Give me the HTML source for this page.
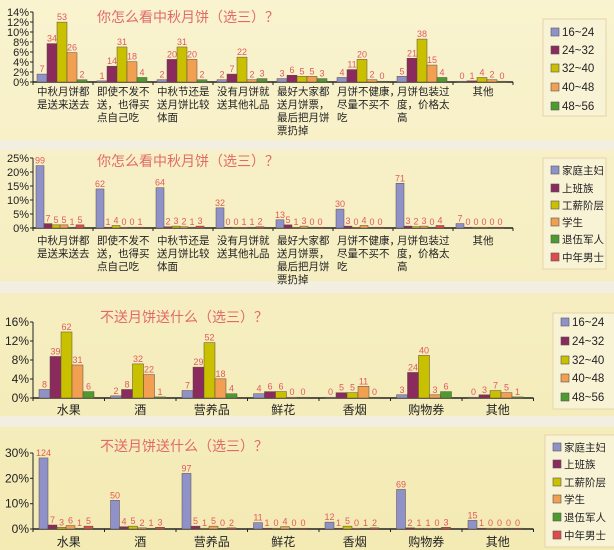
<!DOCTYPE html>
<html><head><meta charset="utf-8"><style>
html,body{margin:0;padding:0;width:614px;height:550px;overflow:hidden;background:#f7f0c4}
svg{display:block}
text{font-family:"Liberation Sans","Noto Sans CJK SC",sans-serif}
</style></head><body>
<svg id="s" width="614" height="550" xmlns="http://www.w3.org/2000/svg">
<defs><linearGradient id="bg" x1="0" y1="0" x2="0" y2="1"><stop offset="0" stop-color="#f9f3cf"/><stop offset="1" stop-color="#f3eab4"/></linearGradient></defs>
<rect width="614" height="550" fill="url(#bg)"/>
<rect x="0" y="140" width="614" height="10" fill="#f2eee0"/>
<rect x="0" y="281" width="614" height="12" fill="#f2eee0"/>
<rect x="0" y="416" width="614" height="11" fill="#f2eee0"/>
</svg>
<script>
var S=document.getElementById('s'),NS='http://www.w3.org/2000/svg';
function el(t,a,txt){var e=document.createElementNS(NS,t);for(var k in a)e.setAttribute(k,a[k]);if(txt!==undefined)e.textContent=txt;S.appendChild(e);return e;}
var C5=['#8f92c9','#8b2a5c','#c9c000','#f0a050','#4d9a2e'];
var C6=['#8f92c9','#8b2a5c','#c9c000','#f0a050','#4d9a2e','#e04a4a'];
function chart(o){
  var x0=33,y0=o.y0;
  el('line',{x1:x0,y1:o.ytop,x2:x0,y2:y0,stroke:'#222','stroke-width':1});
  o.yt.forEach(function(t){var y=y0-t[0];el('line',{x1:x0-3,y1:y,x2:x0,y2:y,stroke:'#222'});
    el('text',{x:x0-4,y:y+4,'font-size':o.yfs,'text-anchor':'end',fill:'#222'},t[1]);});
  var xe=x0+o.gw*o.data.length;
  el('line',{x1:x0,y1:y0,x2:xe,y2:y0,stroke:'#222','stroke-width':1.5});
  for(var g=0;g<=o.data.length;g++){el('line',{x1:x0+g*o.gw,y1:y0,x2:x0+g*o.gw,y2:y0+3,stroke:'#222'});}
  o.data.forEach(function(d,g){
    var gx=x0+g*o.gw+o.off;
    d.forEach(function(v,i){var h=Math.max(v*o.k,0.8);var x=gx+i*o.bw;
      el('rect',{x:x,y:y0-h,width:o.bw,height:h,fill:o.col[i],stroke:'#5a4a40','stroke-width':0.5});
      el('text',{x:x+o.bw/2,y:y0-h-2,'font-size':9,'text-anchor':'middle',fill:'#e05a5a'},String(v));});
    var lab=o.labels[g];
    lab.forEach(function(l,j){
      if(o.center) el('text',{x:x0+g*o.gw+o.gw/2,y:o.ly+j*13,'font-size':12,'text-anchor':'middle',fill:'#222'},l);
      else el('text',{x:x0+g*o.gw+(o.lc&&g==o.data.length-1?o.gw/2:4),y:o.ly+j*13,'font-size':10.5,'text-anchor':(o.lc&&g==o.data.length-1?'middle':'start'),fill:'#222'},l);
    });
  });
  el('text',{x:o.tx,y:o.ty,'font-size':14,fill:'#e06a6a'},o.title);
  el('rect',{x:o.lx,y:o.lyb,width:o.lw,height:o.lh,fill:'#f9f3d6',stroke:'#e6d3a8'});
  o.leg.forEach(function(n,i){var y=o.li[i];
    el('rect',{x:o.lx+8,y:y-8,width:8,height:8,fill:o.col[i],stroke:'#555','stroke-width':0.6});
    el('text',{x:o.lx+19,y:y,'font-size':o.lfs||11.5,fill:'#222'},n);});
}
var L1=[['中秋月饼都','是送来送去'],['即使不发不','送，也得买','点自己吃'],['中秋节还是','送月饼比较','体面'],['没有月饼就','送其他礼品'],['最好大家都','送月饼票，','最后把月饼','票扔掉'],['月饼不健康，','尽量不买不','吃'],['月饼包装过','度，价格太','高'],['其他']];
var ages=['16~24','24~32','32~40','40~48','48~56'];
var jobs=['家庭主妇','上班族','工薪阶层','学生','退伍军人','中年男士'];
var L2=[['水果'],['酒'],['营养品'],['鲜花'],['香烟'],['购物券'],['其他']];
chart({y0:82,ytop:12,yfs:11,yt:[[0,'0%'],[10,'2%'],[20,'4%'],[30,'6%'],[40,'8%'],[50,'10%'],[60,'12%'],[70,'14%']],
 gw:60,off:4,bw:10,k:1.13,col:C5,labels:L1,ly:95,lc:true,
 data:[[7,34,53,26,2],[1,14,31,18,4],[2,20,31,20,2],[2,7,22,2,3],[3,6,5,5,3],[4,11,20,2,0],[5,21,38,15,4],[0,1,4,2,0]],
 title:'你怎么看中秋月饼（选三）？',tx:97,ty:22,lx:543,lyb:19,lw:63,lh:97,leg:ages,li:[36,54,72,91,110]});
chart({y0:228,ytop:158,yfs:11,yt:[[0,'0%'],[14,'5%'],[28,'10%'],[42,'15%'],[56,'20%'],[70,'25%']],
 gw:60,off:3,bw:8,k:0.63,col:C6,labels:L1,ly:244,lc:true,
 data:[[99,7,5,5,1,5],[62,1,4,0,0,1],[64,2,3,2,1,3],[32,0,0,1,1,2],[13,5,1,3,0,0],[30,3,0,4,0,0],[71,3,2,3,0,4],[7,0,0,0,0,0]],
 title:'你怎么看中秋月饼（选三）？',tx:97,ty:166,lx:543,lyb:158,lw:63,lh:111,lfs:10.5,leg:jobs,li:[174,192,209,226,243,261]});
chart({y0:398,ytop:322,yfs:12,yt:[[0,'0%'],[19,'4%'],[38,'8%'],[57,'12%'],[76,'16%']],
 gw:71.5,off:6,bw:11,k:1.065,col:C5,labels:L2,ly:414,center:true,
 data:[[8,39,62,31,6],[2,8,32,22,1],[7,29,52,18,4],[4,6,6,0,0],[0,5,5,11,0],[3,24,40,3,6],[0,3,7,5,1]],
 title:'不送月饼送什么（选三）？',tx:100,ty:322,lx:553,lyb:313,lw:63,lh:96,leg:ages,li:[326,345,364,382,401]});
chart({y0:529,ytop:453,yfs:12,yt:[[0,'0%'],[25.3,'10%'],[50.7,'20%'],[76,'30%']],
 gw:71.5,off:6,bw:9,k:0.573,col:C6,labels:L2,ly:546,center:true,
 data:[[124,7,3,6,1,5],[50,4,5,2,1,3],[97,5,1,5,0,2],[11,1,0,4,0,0],[12,1,5,0,1,2],[69,2,1,1,0,3],[15,1,0,0,0,0]],
 title:'不送月饼送什么（选三）？',tx:100,ty:451,lx:545,lyb:435,lw:70,lh:112,lfs:10.5,leg:jobs,li:[451,468,486,503,521,539]});
</script>
</body></html>
